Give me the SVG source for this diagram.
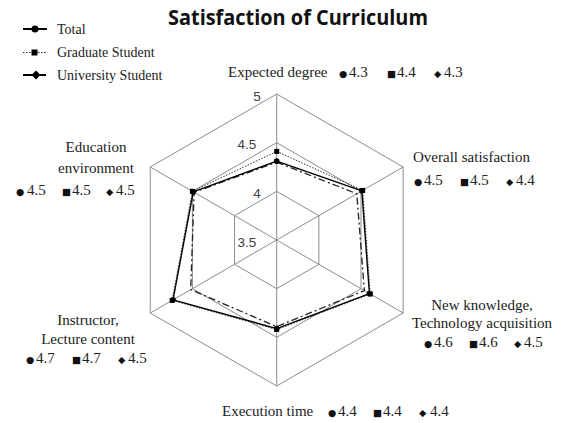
<svg xmlns="http://www.w3.org/2000/svg" width="567" height="423" viewBox="0 0 567 423">
<style>
  .title { font-family: "Open Sans", "Noto Sans", "Liberation Sans", sans-serif; font-weight: 700; font-size: 21px; fill: #111; }
  .lbl { font-family: "Liberation Serif", "Times New Roman", serif; font-size: 15px; fill: #222; }
  .leg { font-family: "Liberation Serif", "Times New Roman", serif; font-size: 14px; fill: #222; }
  .b { font-family: "DejaVu Sans", sans-serif; font-size: 9.5px; fill: #111; }
  .tick { font-family: "Liberation Sans", "Noto Sans", sans-serif; font-size: 13.5px; fill: #404040; text-anchor: middle; }
  .grid { fill: none; stroke: #8c8c8c; stroke-width: 1; }
  .total { fill: none; stroke: #000; stroke-width: 1.4; stroke-linejoin: round; }
  .grad { fill: none; stroke: #333; stroke-width: 1; stroke-dasharray: 1.5 1.5; }
  .univ { fill: none; stroke: #222; stroke-width: 1.3; stroke-dasharray: 7 3 2 3; }
  .mk { fill: #000; }
</style>

<g id="title">
  <text class="title" x="168" y="25" textLength="260" lengthAdjust="spacingAndGlyphs">Satisfaction of Curriculum</text>
</g>

<g id="legend">
  <g id="legend-total">
    <line x1="23" y1="29" x2="47" y2="29" stroke="#000" stroke-width="2"/>
    <circle cx="35" cy="29" r="3.5" class="mk"/>
    <text class="leg" x="57" y="33.5">Total</text>
  </g>
  <g id="legend-graduate">
    <line x1="23" y1="52.5" x2="47" y2="52.5" stroke="#222" stroke-width="1" stroke-dasharray="1.5 1.5"/>
    <rect x="31.5" y="49.5" width="6" height="6" class="mk"/>
    <text class="leg" x="57" y="57">Graduate Student</text>
  </g>
  <g id="legend-university">
    <line x1="23" y1="75" x2="35" y2="75" stroke="#000" stroke-width="2"/>
    <line x1="40" y1="75" x2="46" y2="75" stroke="#000" stroke-width="2"/>
    <polygon points="36,70.5 40.5,75 36,79.5 31.5,75" class="mk"/>
    <text class="leg" x="57" y="79.5">University Student</text>
  </g>
</g>

<g id="grid">
  <polygon class="grid" points="276.7,94 403.14,167 403.14,313 276.7,386 150.26,313 150.26,167"/>
  <polygon class="grid" points="276.7,142.67 360.99,191.33 360.99,288.67 276.7,337.33 192.41,288.67 192.41,191.33"/>
  <polygon class="grid" points="276.7,191.33 318.85,215.67 318.85,264.33 276.7,288.67 234.55,264.33 234.55,215.67"/>
  <line class="grid" x1="276.7" y1="240" x2="276.7" y2="94"/>
  <line class="grid" x1="276.7" y1="240" x2="403.14" y2="167"/>
  <line class="grid" x1="276.7" y1="240" x2="403.14" y2="313"/>
  <line class="grid" x1="276.7" y1="240" x2="276.7" y2="386"/>
  <line class="grid" x1="276.7" y1="240" x2="150.26" y2="313"/>
  <line class="grid" x1="276.7" y1="240" x2="150.26" y2="167"/>
</g>

<g id="ticks">
  <text class="tick" x="257" y="100.5">5</text>
  <text class="tick" x="247" y="148.5">4.5</text>
  <text class="tick" x="257" y="197.5">4</text>
  <text class="tick" x="247" y="246.5">3.5</text>
</g>

<g id="connectors">
  <polygon id="series-university" class="univ" points="276.7,162.14 356.77,193.77 364.36,290.61 276.7,326.62 190.72,289.64 194.1,192.31"/>
  <polygon id="series-graduate" class="grad" points="276.7,151.43 362.68,190.36 370.26,294.02 276.7,329.54 172.18,300.35 192.41,191.33"/>
  <polygon id="series-total" class="total" points="276.7,161.16 361.83,190.85 369.42,293.53 276.7,328.57 173.02,299.86 193.25,191.82"/>
  <g id="markers-graduate">
    <rect class="mk" x="274.2" y="148.9" width="5" height="5"/>
    <rect class="mk" x="360.2" y="187.9" width="5" height="5"/>
    <rect class="mk" x="367.8" y="291.5" width="5" height="5"/>
    <rect class="mk" x="274.2" y="327" width="5" height="5"/>
    <rect class="mk" x="169.7" y="297.9" width="5" height="5"/>
    <rect class="mk" x="189.9" y="188.8" width="5" height="5"/>
  </g>
  <g id="markers-total">
    <circle class="mk" cx="276.7" cy="161.16" r="2.8"/>
    <circle class="mk" cx="361.83" cy="190.85" r="2.8"/>
    <circle class="mk" cx="369.42" cy="293.53" r="2.8"/>
    <circle class="mk" cx="276.7" cy="328.57" r="2.8"/>
    <circle class="mk" cx="173.02" cy="299.86" r="2.8"/>
    <circle class="mk" cx="193.25" cy="191.82" r="2.8"/>
  </g>
</g>

<g id="label-expected">
  <text class="lbl" x="228" y="77">Expected degree</text>
  <text class="lbl" y="77"><tspan class="b" x="339">●</tspan><tspan x="349">4.3</tspan><tspan class="b" x="387">■</tspan><tspan x="397">4.4</tspan><tspan class="b" x="434">◆</tspan><tspan x="444">4.3</tspan></text>
</g>

<g id="label-overall">
  <text class="lbl" x="413" y="162">Overall satisfaction</text>
  <text class="lbl" y="185"><tspan class="b" x="414">●</tspan><tspan x="424">4.5</tspan><tspan class="b" x="460">■</tspan><tspan x="470">4.5</tspan><tspan class="b" x="506">◆</tspan><tspan x="516">4.4</tspan></text>
</g>

<g id="label-newknowledge">
  <text class="lbl" x="482" y="310" text-anchor="middle">New knowledge,</text>
  <text class="lbl" x="482" y="328" text-anchor="middle">Technology acquisition</text>
  <text class="lbl" y="347"><tspan class="b" x="424">●</tspan><tspan x="434">4.6</tspan><tspan class="b" x="469">■</tspan><tspan x="479">4.6</tspan><tspan class="b" x="514">◆</tspan><tspan x="524">4.5</tspan></text>
</g>

<g id="label-execution">
  <text class="lbl" x="222" y="416">Execution time</text>
  <text class="lbl" y="416"><tspan class="b" x="328">●</tspan><tspan x="338">4.4</tspan><tspan class="b" x="373">■</tspan><tspan x="383">4.4</tspan><tspan class="b" x="419">◆</tspan><tspan x="430">4.4</tspan></text>
</g>

<g id="label-instructor">
  <text class="lbl" x="88" y="325" text-anchor="middle">Instructor,</text>
  <text class="lbl" x="88" y="344" text-anchor="middle">Lecture content</text>
  <text class="lbl" y="363"><tspan class="b" x="26">●</tspan><tspan x="36">4.7</tspan><tspan class="b" x="72">■</tspan><tspan x="82">4.7</tspan><tspan class="b" x="118">◆</tspan><tspan x="128">4.5</tspan></text>
</g>

<g id="label-education">
  <text class="lbl" x="96" y="152" text-anchor="middle">Education</text>
  <text class="lbl" x="96" y="173" text-anchor="middle">environment</text>
  <text class="lbl" y="194.5"><tspan class="b" x="16">●</tspan><tspan x="27">4.5</tspan><tspan class="b" x="62">■</tspan><tspan x="72">4.5</tspan><tspan class="b" x="106">◆</tspan><tspan x="116">4.5</tspan></text>
</g>
</svg>
